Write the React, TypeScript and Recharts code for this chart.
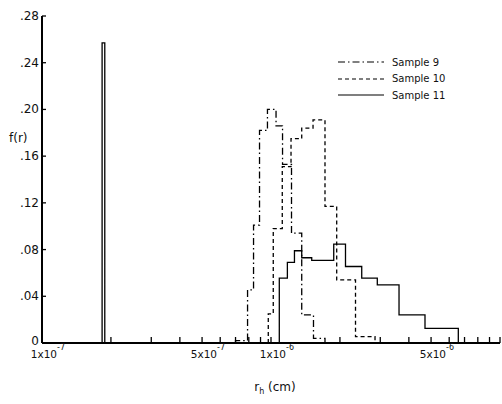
import React from "react";
import { LineChart, Line, XAxis, YAxis } from "recharts";

// bin edges (cm) and f(r) per bin
const s9Edges = [7.0e-7, 7.9e-7, 8.39e-7, 8.91e-7, 9.65e-7, 1.052e-6, 1.123e-6, 1.229e-6, 1.362e-6, 1.533e-6, 1.721e-6];
const s9Values = [0.002, 0.0455, 0.101, 0.182, 0.2, 0.186, 0.153, 0.094, 0.024, 0.004];

const s10Edges = [9.73e-7, 1.023e-6, 1.12e-6, 1.223e-6, 1.362e-6, 1.526e-6, 1.721e-6, 1.936e-6, 2.339e-6, 2.846e-6];
const s10Values = [0.025, 0.098, 0.151, 0.175, 0.184, 0.191, 0.117, 0.054, 0.0055];

const s11Edges = [1.83e-7, 1.88e-7, 1.087e-6, 1.179e-6, 1.266e-6, 1.362e-6, 1.506e-6, 1.879e-6, 2.115e-6, 2.49e-6, 2.912e-6, 3.623e-6, 4.704e-6, 6.576e-6];
const s11Values = [0.257, 0, 0.0555, 0.069, 0.079, 0.073, 0.0707, 0.0847, 0.0655, 0.0555, 0.0498, 0.024, 0.0126];

const xTicks = [1e-7, 2e-7, 3e-7, 4e-7, 5e-7, 6e-7, 7e-7, 8e-7, 9e-7, 1e-6, 2e-6, 3e-6, 4e-6, 5e-6, 6e-6, 7e-6, 8e-6, 9e-6, 1e-5];
const xLabels: Record<string, [string, string]> = {
  "1e-7": ["1x10", "-7"],
  "5e-7": ["5x10", "-7"],
  "0.000001": ["1x10", "-6"],
  "0.000005": ["5x10", "-6"],
};
const yTicks = [0, 0.04, 0.08, 0.12, 0.16, 0.2, 0.24, 0.28];
const yLabels = ["0", ".04", ".08", ".12", ".16", ".20", ".24", ".28"];

const series = [
  { name: "Sample 9", edges: s9Edges, values: s9Values, dash: "7 3 1.5 3" },
  { name: "Sample 10", edges: s10Edges, values: s10Values, dash: "4 3" },
  { name: "Sample 11", edges: s11Edges, values: s11Values, dash: undefined },
];

function toSteps(edges: number[], values: number[]) {
  const pts = [{ r: edges[0], f: 0 }];
  edges.forEach((e, i) => pts.push({ r: e, f: i < values.length ? values[i] : 0 }));
  return pts;
}

const font = "'DejaVu Sans', sans-serif";

const XTick = (props: any) => {
  const { x, y, payload } = props;
  const lab = xLabels[String(payload.value)];
  return (
    <g>
      <line x1={x} x2={x} y1={y} y2={y - 6} stroke="#000" strokeWidth={1.3} />
      {lab && (
        <g fontFamily={font} fill="#111">
          <text x={x + 15} y={y + 15} fontSize={10.5} textAnchor="end">{lab[0]}</text>
          <text x={x + 15} y={y + 7} fontSize={8} textAnchor="start">{lab[1]}</text>
        </g>
      )}
    </g>
  );
};

const YTick = (props: any) => {
  const { y, payload, index } = props;
  return (
    <g>
      <line x1={42} x2={46} y1={y} y2={y} stroke="#000" strokeWidth={1.3} />
      <text x={39} y={index === 0 ? y + 2 : y + 4} fontSize={12} fontFamily={font} textAnchor="end" fill="#111">
        {yLabels[index] ?? payload.value}
      </text>
    </g>
  );
};

const LegendBox = () => (
  <div style={{ position: "absolute", left: 338, top: 54, fontFamily: font, fontSize: 10, color: "#111" }}>
    {series.map((s) => (
      <div key={s.name} style={{ display: "flex", alignItems: "center", height: 16.5 }}>
        <svg width={48} height={6} style={{ marginRight: 6 }}>
          <line x1={0} x2={46} y1={3} y2={3} stroke="#000" strokeWidth={1.2} strokeDasharray={s.dash} />
        </svg>
        <span>{s.name}</span>
      </div>
    ))}
  </div>
);

export default function App() {
  return (
    <div style={{ position: "absolute", left: 0, top: 0, width: 502, height: 404, background: "#fff" }}>
      <LineChart width={502} height={404} margin={{ top: 16, right: 2, bottom: 0, left: 0 }}>
        <XAxis
          dataKey="r"
          type="number"
          scale="log"
          domain={[1e-7, 1e-5]}
          ticks={xTicks}
          allowDataOverflow
          height={61}
          tickSize={0}
          tickMargin={0}
          tick={<XTick />}
          interval={0}
          stroke="#000"
          strokeWidth={2}
          label={{
            content: () => (
              <text x={275} y={391} fontFamily={font} fontSize={12} textAnchor="middle" fill="#111">
                r<tspan fontSize={8} dy={3}>h</tspan>
                <tspan dy={-3}> (cm)</tspan>
              </text>
            ),
          }}
        />
        <YAxis
          type="number"
          domain={[0, 0.28]}
          ticks={yTicks}
          width={42}
          tickSize={0}
          tickMargin={0}
          tick={<YTick />}
          interval={0}
          stroke="#000"
          strokeWidth={2}
          label={{
            content: () => (
              <text x={9} y={142} fontFamily={font} fontSize={12} fill="#111">
                f(r)
              </text>
            ),
          }}
        />
        {series.map((s) => (
          <Line
            key={s.name}
            name={s.name}
            data={toSteps(s.edges, s.values)}
            dataKey="f"
            type="stepAfter"
            stroke="#000"
            strokeWidth={1.3}
            strokeDasharray={s.dash}
            dot={false}
            activeDot={false}
            isAnimationActive={false}
          />
        ))}
      </LineChart>
      <LegendBox />
    </div>
  );
}
